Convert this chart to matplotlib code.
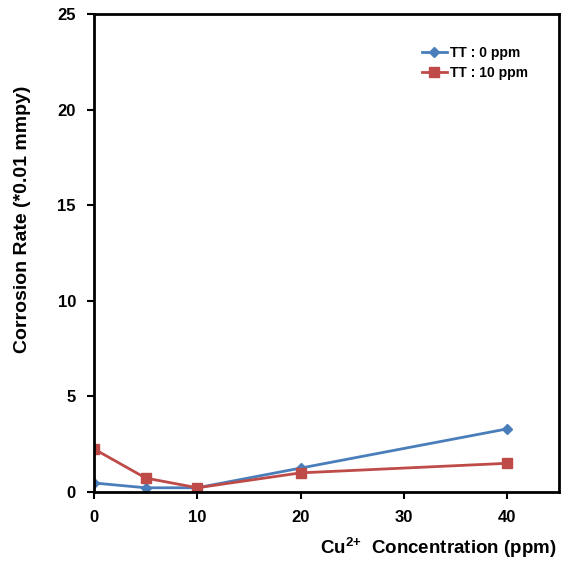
import matplotlib
matplotlib.use("Agg")
import matplotlib.pyplot as plt

# Datos
cu_ppm = [0, 5, 10, 20, 40]
tt_0 = [0.47, 0.22, 0.22, 1.25, 3.3]
tt_10 = [2.25, 0.73, 0.22, 1.0, 1.5]

plt.rcParams['font.family'] = ['Liberation Sans', 'DejaVu Sans']
plt.rcParams['font.weight'] = 'bold'
plt.rcParams['mathtext.fontset'] = 'custom'
plt.rcParams['mathtext.bf'] = 'Liberation Sans:bold'
plt.rcParams['mathtext.rm'] = 'Liberation Sans:bold'

fig = plt.figure(figsize=(5.65, 5.64), dpi=100)
ax = fig.add_axes([0.1664, 0.1277, 0.8226, 0.8475])

ax.plot(cu_ppm, tt_0, color='#4A7EBB', lw=2, marker='D', ms=5,
        label='TT : 0 ppm')
ax.plot(cu_ppm, tt_10, color='#BE4B48', lw=2, marker='s', ms=7,
        label='TT : 10 ppm')

ax.set_xlim(0, 45)
ax.set_ylim(0, 25)
ax.set_xticks([0, 10, 20, 30, 40])
ax.set_yticks([0, 5, 10, 15, 20, 25])

for s in ax.spines.values():
    s.set_linewidth(2)
    s.set_color('black')
ax.tick_params(direction='out', length=5, width=1.5, labelsize=12, pad=8)

ax.set_ylabel('Corrosion Rate (*0.01 mmpy)', fontsize=14, fontweight='bold')
ax.yaxis.set_label_coords(-0.135, 0.57)
ax.set_xlabel(r'Cu$^{\mathbf{2{+}}}$  Concentration (ppm)', fontsize=13.5,
              fontweight='bold', ha='right')
ax.xaxis.set_label_coords(0.995, -0.09)

ax.legend(loc='upper right', bbox_to_anchor=(0.96, 0.96), frameon=False,
          handlelength=1.8, handletextpad=0.2,
          labelspacing=0.45, prop={'weight': 'bold', 'size': 10})

fig.savefig('out.png', dpi=100)
